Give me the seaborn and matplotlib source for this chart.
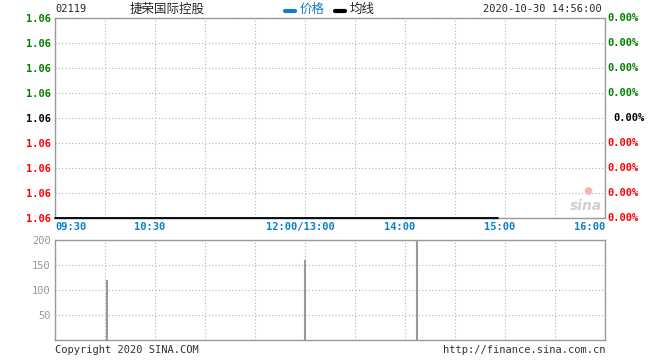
import matplotlib
matplotlib.use('Agg')
import matplotlib.pyplot as plt
import matplotlib.transforms as mtrans
import seaborn as sns

# 数据
code = '02119'
name = '捷荣国际控股'
stamp = '2020-10-30 14:56:00'

price_times = ['09:30', '14:56']
price = [1.06, 1.06]
avg_price = [1.06, 1.06]

vol_times = ['10:01', '12:00', '14:07']
volume = [120, 160, 220]

price_labels = ['1.06'] * 9
pct_labels = ['0.00%'] * 9
label_colors = ['#008000'] * 4 + ['#000000'] + ['#ff0000'] * 4  # 从上到下

time_labels = ['09:30', '10:30', '12:00/13:00', '14:00', '15:00', '16:00']
vol_ticks = [50, 100, 150, 200]


def to_min(t):
    # 交易分钟数，去掉午休
    h, m = map(int, t.split('/')[0].split(':'))
    mins = h * 60 + m - (9 * 60 + 30)
    if h >= 13:
        mins -= 60
    return mins


sns.set_style('white')
plt.rcParams['font.family'] = ['DejaVu Sans Mono', 'Noto Sans CJK SC']
GRAY = '#999999'
GRID = '#b4b4b4'
MONO = 7.5

fig = plt.figure(figsize=(6.6, 3.6), dpi=100)
W, H = 660, 360


def box(l, t, r, b):
    return [l / W, 1 - b / H, (r - l) / W, (b - t) / H]


# 分时图
ax = fig.add_axes(box(55, 18, 605, 218))
sns.lineplot(x=[to_min(t) for t in price_times], y=price, ax=ax,
             color='#1a7ac7', lw=1.0, clip_on=False)
sns.lineplot(x=[to_min(t) for t in price_times], y=avg_price, ax=ax,
             color='black', lw=1.3, clip_on=False, zorder=5)
ax.set_xlim(0, 330)
ax.set_ylim(1.06, 1.068)
ax.set_xticks(range(0, 331, 30))
ax.set_xticklabels([])
yt = [1.06 + i * 0.001 for i in range(9)]
ax.set_yticks(yt)
ax.set_yticklabels(price_labels[::-1], fontsize=MONO, weight='bold')
for lab, c in zip(ax.get_yticklabels(), label_colors[::-1]):
    lab.set_color(c)
ax.tick_params(length=0, pad=3)
ax.grid(True, color=GRID, ls=(0, (1, 2)), lw=0.8)
for s in ax.spines.values():
    s.set_color(GRAY)
    s.set_linewidth(1)
ax.set_ylabel('')

# 右侧涨跌幅
tr = mtrans.blended_transform_factory(ax.transAxes, ax.transData)
for i, (y, lab) in enumerate(zip(yt, pct_labels[::-1])):
    c = label_colors[::-1][i]
    dx = 0.015 if c == '#000000' else 0.004
    ax.text(1 + dx, y, lab, transform=tr, color=c, fontsize=MONO,
            ha='left', va='center', weight='bold')

# 时间标签
trx = mtrans.blended_transform_factory(ax.transData, ax.transAxes)
for i, t in enumerate(time_labels):
    x = to_min(t)
    if i == 0:
        ha, off = 'left', 0
    elif i == len(time_labels) - 1:
        ha, off = 'right', 0
    else:
        ha, off = 'center', -3
    ax.text(x + off, -0.045, t, transform=trx, color='#0a7fd0',
            fontsize=MONO, ha=ha, va='center', weight='bold')

# 水印
ax.text(0.995, 0.06, 'sina', transform=ax.transAxes, color='#cfcfcf',
        fontsize=10, style='italic', weight='bold', ha='right', va='center',
        family='DejaVu Sans')
ax.scatter([0.97], [0.135], transform=ax.transAxes, s=30, color='#f4b4b4',
           edgecolor='none', zorder=1, clip_on=False)

# 成交量
vax = fig.add_axes(box(55, 240, 605, 340))
vax.vlines([to_min(t) for t in vol_times], 0, volume, color=GRAY, lw=1.5)
vax.set_xlim(0, 330)
vax.set_ylim(0, 200)
vax.set_xticks(range(0, 331, 30))
vax.set_xticklabels([])
vax.set_yticks(vol_ticks)
vax.set_yticklabels([str(v) for v in vol_ticks], fontsize=MONO, color=GRAY)
vax.tick_params(length=0, pad=3)
vax.grid(True, color=GRID, ls=(0, (1, 2)), lw=0.8)
for s in vax.spines.values():
    s.set_color(GRAY)
    s.set_linewidth(1)

# 顶部文字
fig.text(55 / W, 1 - 9 / H, code, fontsize=MONO, va='center', ha='left')
fig.text(130 / W, 1 - 9 / H, name, fontsize=9, va='center', ha='left',
         family=['Noto Sans CJK SC', 'DejaVu Sans'])
fig.lines.append(plt.Line2D([285 / W, 295 / W], [1 - 11 / H] * 2,
                            transform=fig.transFigure, color='#1a7ac7', lw=3))
fig.text(300 / W, 1 - 9 / H, '价格', fontsize=9, va='center', ha='left',
         color='#1a7ac7', family=['Noto Sans CJK SC', 'DejaVu Sans'])
fig.lines.append(plt.Line2D([335 / W, 345 / W], [1 - 11 / H] * 2,
                            transform=fig.transFigure, color='black', lw=3))
fig.text(350 / W, 1 - 9 / H, '均线', fontsize=9, va='center', ha='left',
         family=['Noto Sans CJK SC', 'DejaVu Sans'])
fig.text(602 / W, 1 - 9 / H, stamp, fontsize=MONO, va='center', ha='right')

# 底部文字
fig.text(55 / W, 1 - 350 / H, 'Copyright 2020 SINA.COM', fontsize=MONO,
         va='center', ha='left', color='#333333')
fig.text(605 / W, 1 - 350 / H, 'http://finance.sina.com.cn', fontsize=MONO,
         va='center', ha='right', color='#333333')

fig.savefig('out.png', dpi=100)
plt.close()
